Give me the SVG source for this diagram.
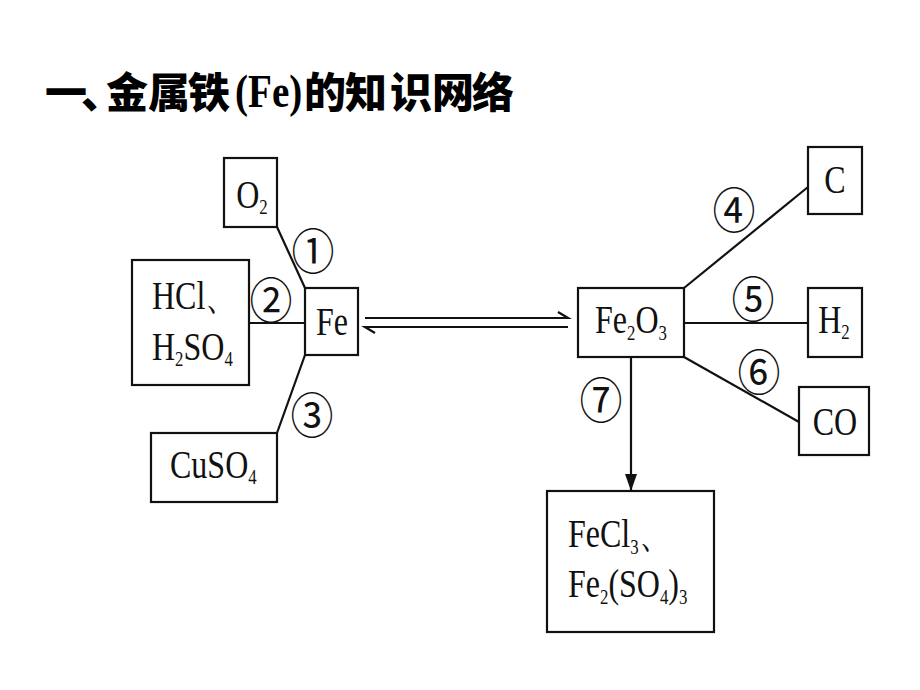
<svg xmlns="http://www.w3.org/2000/svg" width="920" height="690" viewBox="0 0 920 690">
<defs>
<style>
.box{fill:#fff;stroke:#111;stroke-width:2.2}
.ln{fill:none;stroke:#111;stroke-width:2.2}
.t{font-family:"Liberation Serif","Times New Roman",serif;font-size:40px;fill:#111}
.sub{font-size:21px}
.num{font-family:"Noto Sans CJK SC","DejaVu Sans",sans-serif;font-size:43px;fill:#111;text-anchor:middle}
.title{font-family:"Noto Sans CJK SC",sans-serif;font-weight:900;font-size:42px;fill:#000}
.titleS{font-family:"Liberation Serif",serif;font-weight:bold;font-size:46px;fill:#000}
</style>
<marker id="ah" viewBox="0 0 17 12" refX="17" refY="6" markerWidth="17" markerHeight="12" markerUnits="userSpaceOnUse" orient="auto">
<path d="M0,0 L17,6 L0,12 Z" fill="#111"/>
</marker>
</defs>
<rect width="920" height="690" fill="#fff"/>

<g id="title">
<text class="title" x="45 81 106 148 188" y="108">一、金属铁</text>
<text class="titleS" transform="translate(235,107) scale(0.85,1)">(Fe)</text>
<text class="title" x="304 345 390 432 472" y="108">的知识网络</text>
</g>

<g id="connectors">
<line class="ln" x1="277" y1="227" x2="305" y2="288"/>
<line class="ln" x1="249" y1="323" x2="305" y2="323"/>
<line class="ln" x1="305" y1="355" x2="277" y2="433"/>
<path class="ln" d="M365,318 H568 L558,312"/>
<path class="ln" d="M568,327 H365 L375,333"/>
<line class="ln" x1="684" y1="288" x2="808" y2="187"/>
<line class="ln" x1="684" y1="323" x2="808" y2="323"/>
<line class="ln" x1="684" y1="357" x2="799" y2="422"/>
<line class="ln" x1="631" y1="357" x2="631" y2="491" marker-end="url(#ah)"/>
<text class="num" transform="translate(313,249) scale(1,1.1)" y="18">①</text>
<text class="num" transform="translate(271,298) scale(1,1.1)" y="18">②</text>
<text class="num" transform="translate(312,413) scale(1,1.1)" y="18">③</text>
<text class="num" transform="translate(734,208) scale(1,1.1)" y="18">④</text>
<text class="num" transform="translate(753,297) scale(1,1.1)" y="18">⑤</text>
<text class="num" transform="translate(759,370) scale(1,1.1)" y="18">⑥</text>
<text class="num" transform="translate(601,398) scale(1,1.1)" y="18">⑦</text>
</g>

<g id="n-o2">
<rect class="box" x="224" y="158" width="53" height="69"/>
<text class="t" text-anchor="middle" transform="translate(252,208) scale(0.8,1)">O<tspan class="sub" dy="6">2</tspan></text>
</g>

<g id="n-acid">
<rect class="box" x="132" y="260" width="117" height="125"/>
<text class="t" transform="translate(152,309) scale(0.8,1)">HCl、</text>
<text class="t" transform="translate(152,360) scale(0.8,1)">H<tspan class="sub" dy="6">2</tspan><tspan dy="-6">SO</tspan><tspan class="sub" dy="6">4</tspan></text>
</g>

<g id="n-fe">
<rect class="box" x="305" y="288" width="53" height="67"/>
<text class="t" text-anchor="middle" transform="translate(332,335) scale(0.8,1)">Fe</text>
</g>

<g id="n-cuso4">
<rect class="box" x="151" y="433" width="126" height="69"/>
<text class="t" transform="translate(170,478) scale(0.8,1)">CuSO<tspan class="sub" dy="6">4</tspan></text>
</g>

<g id="n-fe2o3">
<rect class="box" x="578" y="288" width="106" height="69"/>
<text class="t" text-anchor="middle" transform="translate(631,333) scale(0.8,1)">Fe<tspan class="sub" dy="7">2</tspan><tspan dy="-7">O</tspan><tspan class="sub" dy="7">3</tspan></text>
</g>

<g id="n-c">
<rect class="box" x="808" y="147" width="54" height="67"/>
<text class="t" text-anchor="middle" transform="translate(835,193) scale(0.8,1)">C</text>
</g>

<g id="n-h2">
<rect class="box" x="808" y="288" width="54" height="69"/>
<text class="t" text-anchor="middle" transform="translate(834,333) scale(0.8,1)">H<tspan class="sub" dy="6">2</tspan></text>
</g>

<g id="n-co">
<rect class="box" x="799" y="387" width="70" height="68"/>
<text class="t" text-anchor="middle" transform="translate(835,435) scale(0.8,1)">CO</text>
</g>

<g id="n-salts">
<rect class="box" x="547" y="491" width="167" height="141"/>
<text class="t" transform="translate(568,547) scale(0.8,1)">FeCl<tspan class="sub" dy="7">3</tspan><tspan dy="-7">、</tspan></text>
<text class="t" transform="translate(568,597) scale(0.8,1)">Fe<tspan class="sub" dy="7">2</tspan><tspan dy="-7">(SO</tspan><tspan class="sub" dy="7">4</tspan><tspan dy="-7">)</tspan><tspan class="sub" dy="7">3</tspan></text>
</g>
</svg>
